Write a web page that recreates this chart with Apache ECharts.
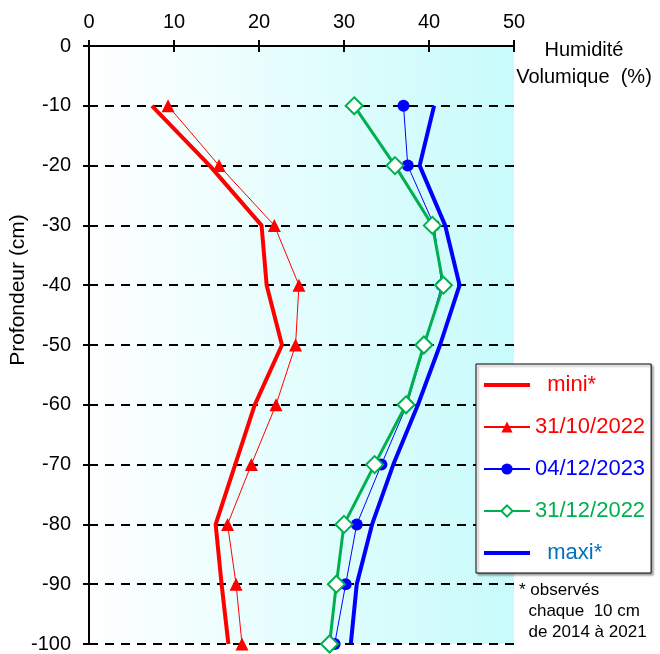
<!DOCTYPE html>
<html>
<head>
<meta charset="utf-8">
<title>Humidité volumique</title>
<script src="https://cdn.jsdelivr.net/npm/echarts@6/dist/echarts.min.js"></script>
<style>
  html, body { margin: 0; padding: 0; background: #fff; }
  #chart { width: 660px; height: 654px; }
</style>
</head>
<body>
<div id="chart"></div>
<script>
/* profondeurs (cm) */
const depths = [-10, -20, -30, -40, -50, -60, -70, -80, -90, -100]

/* humidité volumique (%) */
const mini = [7.4, 14.2, 20.3, 20.9, 22.7, 19.5, 17.2, 14.9, 15.6, 16.4]
const oct2022 = [9.3, 15.3, 21.8, 24.7, 24.3, 22.0, 19.1, 16.3, 17.3, 18.0]
const dec2023 = [37.0, 37.5, 40.6, 41.5, 39.5, 37.4, 34.4, 31.5, 30.2, 28.9]
const dec2022 = [31.2, 36.0, 40.4, 41.7, 39.4, 37.3, 33.6, 30.0, 29.1, 28.3]
const maxi = [40.6, 38.9, 41.9, 43.6, 41.3, 38.7, 35.8, 33.3, 31.5, 30.8]

/* légende */
const legendNames = ['mini*', '31/10/2022', '04/12/2023', '31/12/2022', 'maxi*']
const legendColors = ['#ff0000', '#ff0000', '#0000ff', '#00b050', '#0070c0']

const FONT = 'Liberation Sans, Arial, sans-serif'
const RED = '#ff0000'
const BLUE = '#0000ff'
const GREEN = '#00b050'
const THICK_LINE_ICON = 'path://M0 0H46V4H0Z' // trait épais sans symbole

// couples [humidité, profondeur]
function pairs(values) {
  return depths.map((d, i) => [values[i], d])
}

const chart = echarts.init(document.getElementById('chart'))

const baseX = { type: 'value', position: 'top', min: 0, max: 50, interval: 10 }
const baseY = { type: 'value', min: -100, max: 0, interval: 10 }

chart.setOption({
  animation: false,
  /* zone de tracé avec dégradé blanc -> cyan */
  grid: {
    left: 89,
    right: 146,
    top: 46,
    bottom: 8,
    show: true,
    borderWidth: 0,
    backgroundColor: {
      type: 'linear', x: 0, y: 0, x2: 1, y2: 0,
      colorStops: [
        { offset: 0, color: '#ffffff' },
        { offset: 1, color: '#c8fbfb' }
      ]
    }
  },
  xAxis: [
    Object.assign({}, baseX, {
      axisLine: { lineStyle: { color: '#000', width: 2 } },
      axisTick: { length: 6, lineStyle: { color: '#000', width: 2 } },
      axisLabel: { color: '#000', fontSize: 20, fontFamily: FONT, margin: 14 },
      splitLine: { show: false }
    }),
    // ticks intérieurs (les graduations traversent l'axe)
    Object.assign({}, baseX, {
      axisLine: { show: false },
      axisTick: { inside: true, length: 6, lineStyle: { color: '#000', width: 2 } },
      axisLabel: { show: false },
      splitLine: { show: false }
    })
  ],
  yAxis: [
    Object.assign({}, baseY, {
      axisLine: { show: true, lineStyle: { color: '#000', width: 2 } },
      axisTick: { show: true, length: 6, lineStyle: { color: '#000', width: 2 } },
      axisLabel: { color: '#000', fontSize: 20, fontFamily: FONT, margin: 18 },
      splitLine: { show: true, lineStyle: { color: '#000', width: 2, type: [9, 7] } }
    }),
    Object.assign({}, baseY, {
      axisLine: { show: false },
      axisTick: { show: true, inside: true, length: 6, lineStyle: { color: '#000', width: 2 } },
      axisLabel: { show: false },
      splitLine: { show: false }
    })
  ],
  legend: {
    orient: 'vertical',
    left: 476,
    top: 364,
    width: 175,
    padding: [10, 6, 9, 7],
    itemWidth: 46,
    itemHeight: 14,
    itemGap: 20,
    selectedMode: false,
    backgroundColor: '#fff',
    borderColor: '#000',
    borderWidth: 1,
    borderRadius: 0,
    shadowColor: 'rgba(0,0,0,0.35)',
    shadowBlur: 2,
    shadowOffsetX: 2,
    shadowOffsetY: 2,
    formatter: function(name) {
      return name === 'mini*' || name === 'maxi*' ? '  ' + name : name
    },
    textStyle: { fontSize: 22, fontFamily: FONT, lineHeight: 22 },
    data: legendNames.map((n, i) => {
      const item = { name: n, textStyle: { color: legendColors[i] } }
      if (n === 'mini*' || n === 'maxi*') item.icon = THICK_LINE_ICON
      return item
    })
  },
  series: [
    {
      name: 'mini*',
      type: 'line',
      data: pairs(mini),
      symbol: 'none',
      lineStyle: { color: RED, width: 4 },
      itemStyle: { color: RED }
    },
    {
      name: 'maxi*',
      type: 'line',
      data: pairs(maxi),
      symbol: 'none',
      lineStyle: { color: BLUE, width: 4 },
      itemStyle: { color: BLUE }
    },
    {
      name: '31/10/2022',
      type: 'line',
      data: pairs(oct2022),
      symbol: 'triangle',
      symbolSize: 13,
      lineStyle: { color: RED, width: 1 },
      itemStyle: { color: RED }
    },
    {
      name: '04/12/2023',
      type: 'line',
      data: pairs(dec2023),
      symbol: 'circle',
      symbolSize: 12,
      lineStyle: { color: BLUE, width: 1 },
      itemStyle: { color: BLUE }
    },
    {
      name: '31/12/2022',
      type: 'line',
      data: pairs(dec2022),
      symbol: 'diamond',
      symbolSize: 17,
      lineStyle: { color: GREEN, width: 3 },
      itemStyle: { color: '#fff', borderColor: GREEN, borderWidth: 2 }
    }
  ],
  /* textes libres */
  graphic: [
    {
      type: 'text',
      x: 18,
      y: 290,
      rotation: Math.PI / 2,
      style: {
        text: 'Profondeur (cm)',
        fill: '#000',
        font: '21px ' + FONT,
        align: 'center',
        verticalAlign: 'middle'
      }
    },
    {
      type: 'text',
      x: 584,
      y: 64,
      style: {
        text: 'Humidité\nVolumique  (%)',
        fill: '#000',
        font: '20px ' + FONT,
        lineHeight: 27,
        align: 'center',
        verticalAlign: 'middle'
      }
    },
    {
      type: 'text',
      x: 519,
      y: 611,
      style: {
        text: '* observés\n  chaque  10 cm\n  de 2014 à 2021',
        fill: '#000',
        font: '17px ' + FONT,
        lineHeight: 21,
        align: 'left',
        verticalAlign: 'middle'
      }
    }
  ]
})
</script>
</body>
</html>
